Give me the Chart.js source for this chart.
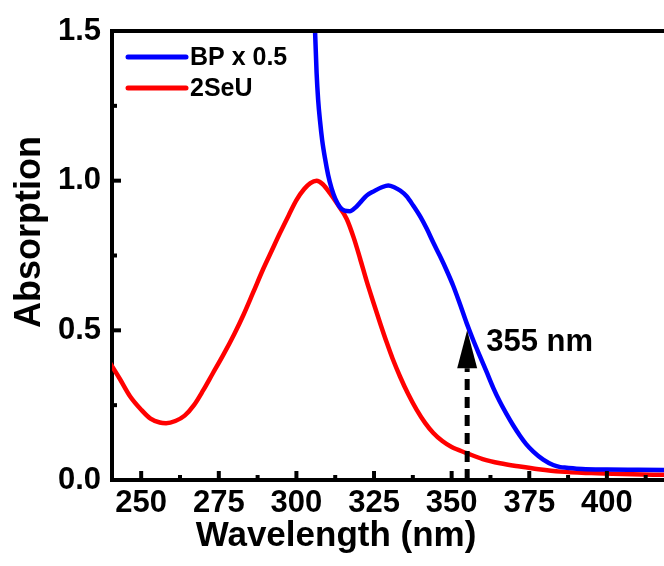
<!DOCTYPE html>
<html>
<head>
<meta charset="utf-8">
<script src="https://cdn.jsdelivr.net/npm/chart.js@4.4.0/dist/chart.umd.min.js"></script>
<style>
  body { margin: 0; background: #fff; }
  canvas { display: block; }
</style>
</head>
<body>
<canvas id="myChart" width="664" height="566"></canvas>
<script>
/* wavelength (nm) and absorption */
const seuWavelength = [240, 243, 246.4, 250, 253, 256, 258, 261, 264, 267, 270, 273, 276.4, 280, 283, 286,
    289.3, 292, 294.7, 297.5, 300, 302.5, 304.5, 306.5, 308.5, 310.8, 313, 316.2, 318.5, 320.5, 322.6,
    324.8, 327, 329.1, 331, 333.4, 336, 338.7, 341.5, 344.1, 347, 350, 354.8, 360, 365.6, 372, 378,
    385, 395, 405, 420];
const seuAbs = [0.39, 0.34, 0.28, 0.235, 0.205, 0.192, 0.19, 0.197, 0.215, 0.25, 0.30, 0.355, 0.417, 0.488,
    0.553, 0.625, 0.705, 0.765, 0.825, 0.884, 0.935, 0.972, 0.992, 1.0, 0.988, 0.958, 0.925, 0.872, 0.808,
    0.74, 0.665, 0.593, 0.523, 0.459, 0.405, 0.345, 0.287, 0.235, 0.19, 0.157, 0.13, 0.11, 0.09, 0.07,
    0.056, 0.045, 0.036, 0.028, 0.023, 0.02, 0.017];

const bpWavelength = [305.6, 306, 306.5, 307, 307.6, 308.3, 309.2, 310.2, 311.3, 312.5, 314, 315.5, 317.2,
    319, 320.8, 322.6, 325, 327.5, 329.6, 331.5, 333.4, 335.5, 337.6, 340, 342, 344, 346.2, 348.4, 350.5,
    352.7, 354.8, 357, 359.1, 361.3, 363.4, 365.5, 367.7, 369.8, 372, 374, 376.3, 379.5, 382.7, 385, 387,
    392, 400, 410, 420];
const bpAbs = [1.65, 1.5, 1.36, 1.27, 1.2, 1.135, 1.075, 1.02, 0.975, 0.94, 0.912, 0.9, 0.898,
    0.91, 0.93, 0.95, 0.965, 0.978, 0.984, 0.978, 0.967, 0.948, 0.917, 0.878, 0.839, 0.795, 0.749, 0.70,
    0.649, 0.587, 0.525, 0.466, 0.414, 0.36, 0.308, 0.262, 0.22, 0.183, 0.148, 0.12, 0.095, 0.068, 0.05,
    0.043, 0.041, 0.037, 0.035, 0.034, 0.033];

const seriesNames = ['BP x 0.5', '2SeU'];
const seriesColors = ['#0000ff', '#ff0000'];

const xTickValues = [250, 275, 300, 325, 350, 375, 400];
const yTickValues = [0, 0.5, 1.0, 1.5];

const arrowWavelength = 355;
const arrowTop = 0.5;
const arrowLabel = '355 nm';

const toPoints = (xs, ys) => xs.map((x, i) => ({x: x, y: ys[i]}));

const fontFamily = '"Liberation Sans", Arial, sans-serif';

/* frame, inward ticks, legend, arrow and axis titles */
const extras = {
    id: 'extras',
    afterDatasetsDraw(chart) {
        const c = chart.ctx;
        const a = chart.chartArea;
        const xs = chart.scales.x;
        const ys = chart.scales.y;
        c.save();
        c.strokeStyle = '#000';
        c.fillStyle = '#000';

        // top frame line
        c.lineWidth = 4;
        c.beginPath();
        c.moveTo(a.left - 2, a.top);
        c.lineTo(a.right, a.top);
        c.stroke();

        // x ticks, major + minor, pointing in
        c.lineWidth = 4;
        xs.ticks.forEach(t => {
            const px = xs.getPixelForValue(t.value);
            c.beginPath(); c.moveTo(px, a.bottom); c.lineTo(px, a.bottom - 9); c.stroke();
            const mx = xs.getPixelForValue(t.value + 12.5);
            if (mx < a.right) {
                c.beginPath(); c.moveTo(mx, a.bottom); c.lineTo(mx, a.bottom - 5); c.stroke();
            }
        });
        ys.ticks.forEach(t => {
            const py = ys.getPixelForValue(t.value);
            c.beginPath(); c.moveTo(a.left, py); c.lineTo(a.left + 9, py); c.stroke();
            if (t.value + 0.25 < ys.max) {
                const my = ys.getPixelForValue(t.value + 0.25);
                c.beginPath(); c.moveTo(a.left, my); c.lineTo(a.left + 5, my); c.stroke();
            }
        });

        // dashed arrow
        const ax = xs.getPixelForValue(arrowWavelength);
        const tipY = ys.getPixelForValue(arrowTop);
        const headH = 38;
        c.lineWidth = 5;
        c.setLineDash([11, 7]);
        c.beginPath();
        c.moveTo(ax, a.bottom);
        c.lineTo(ax, tipY + headH);
        c.stroke();
        c.setLineDash([]);
        c.beginPath();
        c.moveTo(ax, tipY);
        c.lineTo(ax - 10, tipY + headH);
        c.lineTo(ax + 10, tipY + headH);
        c.closePath();
        c.fill();

        c.font = 'bold 31px ' + fontFamily;
        c.textAlign = 'left';
        c.textBaseline = 'alphabetic';
        c.fillText(arrowLabel, ax + 19, tipY + 21);

        // legend
        c.lineWidth = 5;
        c.lineCap = 'round';
        c.font = 'bold 25px ' + fontFamily;
        c.textBaseline = 'middle';
        seriesNames.forEach((name, i) => {
            const ly = 57 + i * 31;
            c.strokeStyle = seriesColors[i];
            c.beginPath(); c.moveTo(a.left + 16, ly); c.lineTo(a.left + 74, ly); c.stroke();
            c.fillStyle = '#000';
            c.fillText(name, a.left + 78, ly + 1);
        });

        // axis titles
        c.fillStyle = '#000';
        c.font = 'bold 35px ' + fontFamily;
        c.textAlign = 'center';
        c.textBaseline = 'alphabetic';
        c.fillText('Wavelength (nm)', 336, 546);
        c.font = 'bold 36px ' + fontFamily;
        c.translate(40, 232);
        c.rotate(-Math.PI / 2);
        c.fillText('Absorption', 0, 0);
        c.restore();
    }
};

const ctx = document.getElementById('myChart');

const spectraChart = new Chart(ctx, {
    type: 'line',
    data: {
        datasets: [
            {
                label: seriesNames[0],
                data: toPoints(bpWavelength, bpAbs),
                borderColor: seriesColors[0],
                borderWidth: 4.5,
                pointRadius: 0,
                cubicInterpolationMode: 'monotone'
            },
            {
                label: seriesNames[1],
                data: toPoints(seuWavelength, seuAbs),
                borderColor: seriesColors[1],
                borderWidth: 4.5,
                pointRadius: 0,
                cubicInterpolationMode: 'monotone'
            }
        ]
    },
    options: {
        responsive: false,
        animation: false,
        layout: {
            padding: {top: 31, right: 0, bottom: 0, left: 0}
        },
        scales: {
            x: {
                type: 'linear',
                min: 240.6,
                max: 418.4,
                afterBuildTicks: s => { s.ticks = xTickValues.map(v => ({value: v})); },
                afterFit: s => { s.height = 86; },
                grid: {display: false, drawTicks: false},
                border: {display: true, color: '#000', width: 4},
                ticks: {
                    padding: 5,
                    color: '#000',
                    maxRotation: 0,
                    font: {family: fontFamily, size: 31, weight: 'bold'}
                }
            },
            y: {
                min: 0,
                max: 1.5,
                afterBuildTicks: s => { s.ticks = yTickValues.map(v => ({value: v})); },
                afterFit: s => { s.width = 112; },
                grid: {display: false, drawTicks: false},
                border: {display: true, color: '#000', width: 4},
                ticks: {
                    padding: 11,
                    color: '#000',
                    font: {family: fontFamily, size: 31, weight: 'bold'},
                    callback: v => v.toFixed(1)
                }
            }
        },
        plugins: {
            legend: {display: false},
            tooltip: {enabled: false}
        }
    },
    plugins: [extras]
});
</script>
</body>
</html>
